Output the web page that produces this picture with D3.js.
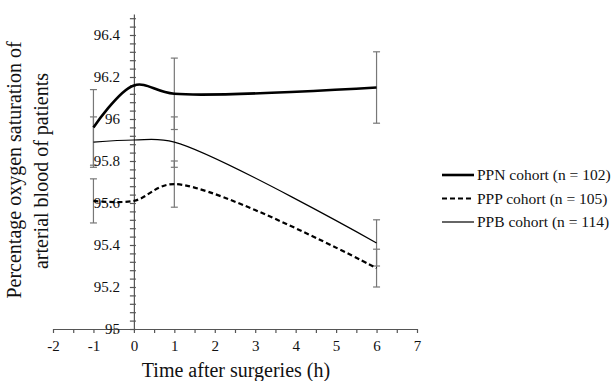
<!DOCTYPE html>
<html lang="en">
<head>
	<meta charset="UTF-8">
	<title>Oxygen saturation</title>
	<script type="text/javascript" src="https://cdn.jsdelivr.net/npm/d3@7/dist/d3.min.js"></script>
	<style>
		body { margin: 0; background: #fff; }
		svg text { font-family: 'Liberation Serif'; fill: #111; }
		.axis path, .axis line { stroke: #555; stroke-width: 1.2px; }
		.err { stroke: #777; stroke-width: 1.2px; fill: none; }
	</style>
</head>
<body>
<script type="text/javascript">
		var hours = [-1, 0, 1, 6];
		var ppn = [95.96, 96.16, 96.12, 96.15];
		var ppp = [95.61, 95.61, 95.69, 95.29];
		var ppb = [95.89, 95.90, 95.89, 95.41];
		// error bar half widths (none shown at 0, hidden by the axis)
		var ppnErr = [0.18, null, 0.17, 0.17];
		var pppErr = [0.105, null, 0.11, 0.09];
		var ppbErr = [0.12, null, 0.12, 0.11];
		var names = ['PPN cohort (n = 102)', 'PPP cohort (n = 105)', 'PPB cohort (n = 114)'];
		var xTicks = [-2, -1, 0, 1, 2, 3, 4, 5, 6, 7];
		var yTicks = [95, 95.2, 95.4, 95.6, 95.8, 96, 96.2, 96.4];

		var width = 613, height = 381;
		var serif = "'Liberation Serif'";

		var svg = d3.select('body')
					.append('svg')
						.attr('width', width)
						.attr('height', height);

		var x = d3.scaleLinear().domain([-2, 7]).range([53, 417]);
		var y = d3.scaleLinear().domain([95, 96.5]).range([329, 14]);

		var series = [
			{ name: names[0], vals: ppn, err: ppnErr, w: 2.6, dash: null },
			{ name: names[1], vals: ppp, err: pppErr, w: 2.2, dash: '5,3' },
			{ name: names[2], vals: ppb, err: ppbErr, w: 1.2, dash: null }
		];

		// error bars first so the lines sit on top
		series.forEach(function (s) {
			var pts = hours.map(function (h, i) { return { h: h, v: s.vals[i], e: s.err[i] }; })
				.filter(function (d) { return d.e != null; });
			var g = svg.append('g').attr('class', 'err');
			g.selectAll('.bar').data(pts).enter().append('line')
				.attr('x1', function (d) { return x(d.h); })
				.attr('x2', function (d) { return x(d.h); })
				.attr('y1', function (d) { return y(d.v + d.e); })
				.attr('y2', function (d) { return y(d.v - d.e); });
			[1, -1].forEach(function (sign) {
				g.selectAll('.cap' + sign).data(pts).enter().append('line')
					.attr('x1', function (d) { return x(d.h) - 3.5; })
					.attr('x2', function (d) { return x(d.h) + 3.5; })
					.attr('y1', function (d) { return y(d.v + sign * d.e); })
					.attr('y2', function (d) { return y(d.v + sign * d.e); });
			});
		});

		// x axis with half-unit ticks
		var xAxis = svg.append('g')
			.attr('class', 'axis')
			.attr('transform', 'translate(0,' + y(95) + ')')
			.call(d3.axisBottom(x).tickValues(d3.range(-2, 7.01, 0.5)).tickSize(4).tickSizeOuter(0)
				.tickFormat(function (d) { return xTicks.indexOf(d) >= 0 ? String(d) : ''; }));
		xAxis.attr('font-family', null).attr('font-size', null);
		xAxis.selectAll('text')
			.style('font-family', serif).style('font-size', '15px')
			.attr('fill', '#111').attr('dy', null).attr('y', 22);

		// y axis at x = 0, minor ticks every 0.04
		var yAxis = svg.append('g')
			.attr('class', 'axis')
			.attr('transform', 'translate(' + x(0) + ',0)')
			.call(d3.axisLeft(y).tickValues(d3.range(95, 96.5, 0.04)).tickSizeInner(4).tickSizeOuter(0)
				.tickFormat(function () { return ''; }));
		yAxis.attr('font-family', null).attr('font-size', null);
		yAxis.selectAll('.tick line').attr('x2', 2).attr('x1', -4);

		svg.append('g').selectAll('.ylab').data(yTicks).enter().append('text')
			.attr('x', 120)
			.attr('y', function (d) { return y(d) + 5; })
			.attr('text-anchor', 'end')
			.style('font-family', serif)
			.style('font-size', '15px')
			.text(function (d) { return +d.toFixed(1); });

		// lines
		var line = d3.line()
			.x(function (d, i) { return x(hours[i]); })
			.y(function (d) { return y(d); })
			.curve(d3.curveCatmullRom.alpha(0.5));

		series.forEach(function (s) {
			svg.append('path')
				.datum(s.vals)
				.attr('d', line)
				.attr('fill', 'none')
				.attr('stroke', '#000')
				.attr('stroke-width', s.w)
				.attr('stroke-dasharray', s.dash);
		});

		// legend
		var leg = svg.append('g').selectAll('.leg').data(series).enter().append('g')
			.attr('transform', function (d, i) { return 'translate(442,' + (175 + i * 23.5) + ')'; });
		leg.append('line')
			.attr('x1', 0).attr('x2', 32)
			.attr('stroke', '#000')
			.attr('stroke-width', function (d) { return d.w; })
			.attr('stroke-dasharray', function (d) { return d.dash; });
		leg.append('text')
			.attr('x', 35)
			.attr('y', 5)
			.style('font-family', serif)
			.style('font-size', '15.5px')
			.text(function (d) { return d.name; });

		// axis titles
		svg.append('text')
			.attr('x', 236).attr('y', 377)
			.attr('text-anchor', 'middle')
			.style('font-family', serif)
			.style('font-size', '20px')
			.text('Time after surgeries (h)');

		svg.append('text')
			.attr('transform', 'translate(21,170) rotate(-90)')
			.attr('text-anchor', 'middle')
			.style('font-family', serif)
			.style('font-size', '20px')
			.text('Percentage  oxygen  saturation of');
		svg.append('text')
			.attr('transform', 'translate(48,171) rotate(-90)')
			.attr('text-anchor', 'middle')
			.style('font-family', serif)
			.style('font-size', '20px')
			.text('arterial blood of patients');
</script>
</body>
</html>
